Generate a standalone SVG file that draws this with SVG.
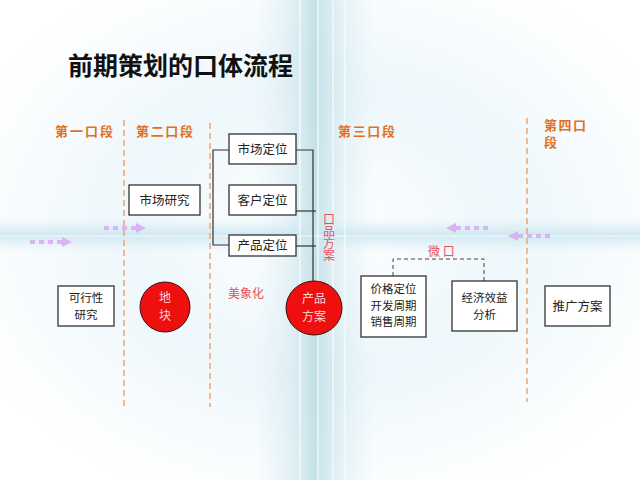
<svg xmlns="http://www.w3.org/2000/svg" width="640" height="480" viewBox="0 0 640 480">
<defs>
<radialGradient id="glow" cx="0.5" cy="0.48" r="0.6">
<stop offset="0" stop-color="#ffffff"/>
<stop offset="0.5" stop-color="#eef7fb"/>
<stop offset="1" stop-color="#ffffff"/>
</radialGradient>
<linearGradient id="vband" x1="0" y1="0" x2="1" y2="0">
<stop offset="0" stop-color="#cfe6ee" stop-opacity="0"/>
<stop offset="0.3" stop-color="#c4e2ea" stop-opacity="0.7"/>
<stop offset="0.5" stop-color="#aed4dc" stop-opacity="0.8"/>
<stop offset="0.7" stop-color="#c4e2ea" stop-opacity="0.7"/>
<stop offset="1" stop-color="#cfe6ee" stop-opacity="0"/>
</linearGradient>
<linearGradient id="hband" x1="0" y1="0" x2="0" y2="1">
<stop offset="0" stop-color="#d6ebf3" stop-opacity="0"/>
<stop offset="0.5" stop-color="#c6e3ef" stop-opacity="0.8"/>
<stop offset="1" stop-color="#d6ebf3" stop-opacity="0"/>
</linearGradient>
<marker id="ah" markerWidth="10" markerHeight="10" refX="2" refY="5" orient="auto" markerUnits="userSpaceOnUse">
<path d="M0,0 L10,5 L0,10 Z" fill="#d9b3f2"/>
</marker>
<style>
.stage{font-family:"Liberation Sans","Noto Sans CJK SC",sans-serif;font-weight:bold;font-size:13px;fill:#e2711d}
.box{fill:#ffffff;stroke:#333333;stroke-width:1.3}
.bt{font-family:"Noto Sans CJK SC",sans-serif;font-size:12.5px;fill:#222222;text-anchor:middle}
.bt2{font-family:"Noto Sans CJK SC",sans-serif;font-size:11.5px;fill:#222222;text-anchor:middle}
.red{font-family:"Noto Sans CJK SC",sans-serif;font-size:12px;fill:#ea4f58}
.vdash{stroke:#f0a46e;stroke-width:1.5;stroke-dasharray:6,4;fill:none}
.conn{stroke:#333333;stroke-width:1.2;fill:none}
.dconn{stroke:#444444;stroke-width:1;stroke-dasharray:4,3;fill:none}
.parrow{stroke:#d9b3f2;stroke-width:4;stroke-dasharray:5,4;fill:none}
.ball{fill:#ee0f0f;stroke:#3a1010;stroke-width:1}
.bw{font-family:"Noto Sans CJK SC",sans-serif;font-size:12px;fill:#ffd6d6;text-anchor:middle}
</style>
</defs>
<rect width="640" height="480" fill="url(#glow)"/>
<rect x="255" y="0" width="120" height="480" fill="url(#vband)" opacity="0.6"/>
<rect x="290" y="0" width="50" height="480" fill="url(#vband)" opacity="0.5"/>
<rect x="0" y="218" width="640" height="34" fill="url(#hband)"/>
<g stroke="#ffffff" stroke-width="1.2" opacity="0.9">
<line x1="300" y1="0" x2="300" y2="480"/>
<line x1="318" y1="0" x2="318" y2="480"/>
<line x1="333" y1="0" x2="333" y2="480"/>
<line x1="345" y1="0" x2="345" y2="480"/>
<line x1="0" y1="236" x2="640" y2="236"/>
</g>

<text x="68" y="75" font-family="Liberation Sans,'Noto Sans CJK SC',sans-serif" font-weight="bold" font-size="25" fill="#111111" textLength="225">前期策划的口体流程</text>

<g id="stages">
<text class="stage" x="55" y="136" textLength="58">第一口段</text>
<text class="stage" x="136" y="136" textLength="57">第二口段</text>
<text class="stage" x="338" y="136" textLength="57">第三口段</text>
<text class="stage" x="544" y="130" textLength="42">第四口</text>
<text class="stage" x="544" y="147">段</text>
</g>

<g id="dividers">
<line class="vdash" x1="124" y1="120" x2="124" y2="407"/>
<line class="vdash" x1="210" y1="123" x2="210" y2="407"/>
<line class="vdash" x1="527" y1="118" x2="527" y2="402"/>
</g>

<g id="flow-arrows">
<line class="parrow" x1="30" y1="242" x2="64" y2="242" marker-end="url(#ah)"/>
<line class="parrow" x1="104" y1="228" x2="138" y2="228" marker-end="url(#ah)"/>
<line class="parrow" x1="488" y1="228" x2="454" y2="228" marker-end="url(#ah)"/>
<line class="parrow" x1="550" y1="236" x2="516" y2="236" marker-end="url(#ah)"/>
</g>

<g id="connectors">
<path class="conn" d="M229,150 H213 V245 H229"/>
<path class="conn" d="M296,150 H313 V282"/>
<path class="conn" d="M296,211 H316"/>
<path class="conn" d="M296,246 H316"/>
<path class="dconn" d="M393,276 V259 H484 V281"/>
</g>

<g id="n-market-research">
<rect class="box" x="129" y="185" width="71" height="30"/>
<text class="bt" x="164.5" y="205">市场研究</text>
</g>
<g id="n-market-pos">
<rect class="box" x="229" y="134" width="67" height="30"/>
<text class="bt" x="262.5" y="154">市场定位</text>
</g>
<g id="n-customer-pos">
<rect class="box" x="229" y="185" width="67" height="30"/>
<text class="bt" x="262.5" y="205">客户定位</text>
</g>
<g id="n-product-pos">
<rect class="box" x="229" y="235" width="67" height="21"/>
<text class="bt" x="262.5" y="250">产品定位</text>
</g>

<g id="n-feasibility">
<rect class="box" x="58" y="286" width="56" height="40"/>
<text class="bt2" x="86" y="302">可行性</text>
<text class="bt2" x="86" y="319">研究</text>
</g>
<g id="n-land">
<circle class="ball" cx="165" cy="307" r="25"/>
<text class="bw" x="165" y="302">地</text>
<text class="bw" x="165" y="319.5">块</text>
</g>
<g id="n-product-plan">
<ellipse class="ball" cx="314" cy="308" rx="28" ry="27"/>
<text class="bw" x="314" y="303">产品</text>
<text class="bw" x="314" y="320.5">方案</text>
</g>
<g id="n-pricing">
<rect class="box" x="361" y="276" width="65" height="61"/>
<text class="bt2" x="393.5" y="293">价格定位</text>
<text class="bt2" x="393.5" y="309.7">开发周期</text>
<text class="bt2" x="393.5" y="326.4">销售周期</text>
</g>
<g id="n-economic">
<rect class="box" x="452" y="281" width="65" height="50"/>
<text class="bt2" x="484.5" y="302">经济效益</text>
<text class="bt2" x="484.5" y="319">分析</text>
</g>
<g id="n-promotion">
<rect class="box" x="545" y="286" width="65" height="40"/>
<text class="bt" x="577.5" y="311">推广方案</text>
</g>

<g id="labels">
<text class="red" x="329" y="213" writing-mode="vertical-rl" style="writing-mode:vertical-rl">口品方案</text>
<text class="red" x="228" y="298">美象化</text>
<text class="red" x="428" y="256">微 口</text>
</g>
</svg>
